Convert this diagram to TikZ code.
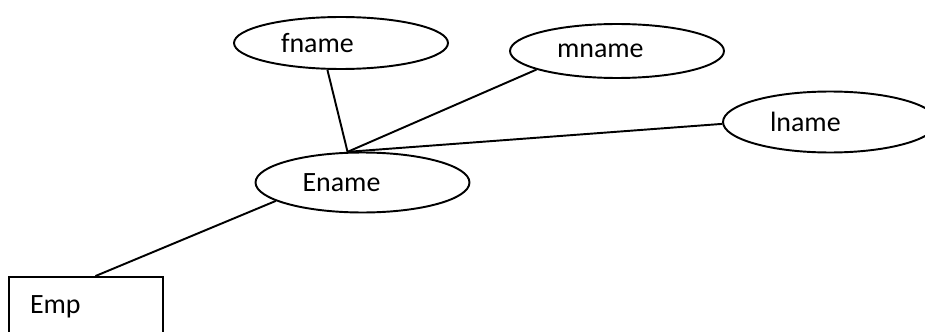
\documentclass[tikz,border=0pt]{standalone}
\usepackage{fontspec}
\setmainfont{Carlito}
\usetikzlibrary{shapes.geometric}
\begin{document}
\begin{tikzpicture}[x=0.02cm,y=-0.02cm,
    font=\fontsize{15.9}{19}\selectfont,
    atributo/.style={draw,ellipse,line width=1.1pt,inner sep=0pt,
      text width=2.4cm,align=left,minimum width=4.28cm},
    entidad/.style={draw,rectangle,line width=1.1pt,inner xsep=0.42cm,
      text width=2.24cm,align=left,minimum height=1.2cm},
    enlace/.style={line width=1.1pt}]
  \useasboundingbox (0,0) rectangle (925,331);

  % Atributos compuestos
  \node[atributo,minimum height=1.04cm] (fname) at (341,43) {fname};
  \node[atributo,minimum height=1.08cm] (mname) at (617,51) {mname};
  \node[atributo,minimum height=1.22cm] (lname) at (830,122) {lname};

  % Atributo Ename
  \node[atributo,minimum height=1.2cm] (Ename) at (362.5,182.5) {Ename};

  % Entidad
  \node[entidad] (Emp) at (86,307) {Emp};

  % Lineas
  \draw[enlace] (fname.243) -- (Ename.116);
  \draw[enlace] (mname.193) -- (Ename.116);
  \draw[enlace] (lname.181) -- (Ename.116);
  \draw[enlace] (Ename.192) -- (Emp.73);

\end{tikzpicture}
\end{document}
